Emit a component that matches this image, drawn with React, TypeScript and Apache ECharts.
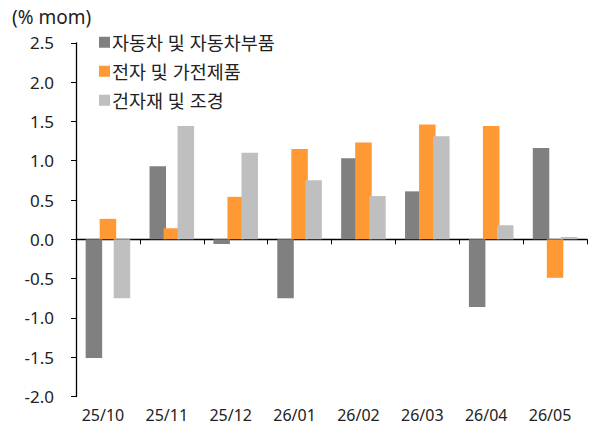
import React, { useEffect, useRef } from "react";
import * as echarts from "echarts";

const categories = ["25/10", "25/11", "25/12", "26/01", "26/02", "26/03", "26/04", "26/05"];
const autoParts = [-1.51, 0.93, -0.06, -0.75, 1.03, 0.61, -0.86, 1.16];
const electronics = [0.26, 0.14, 0.54, 1.15, 1.23, 1.46, 1.44, -0.49];
const construction = [-0.75, 1.44, 1.10, 0.75, 0.55, 1.31, 0.18, 0.03];
const seriesNames = ["자동차 및 자동차부품", "전자 및 가전제품", "건자재 및 조경"];
const colors = ["#808080", "#FF9933", "#BFBFBF"];

const FONT = "'Noto Sans', 'Noto Sans CJK KR', sans-serif";

export default function App() {
  const ref = useRef<HTMLDivElement>(null);
  useEffect(() => {
    if (!ref.current) return;
    const chart = echarts.init(ref.current, null, { renderer: "svg" });
    const mk = (name: string, data: number[], color: string) => ({
      name,
      type: "bar",
      data,
      xAxisIndex: 0,
      barWidth: 16.5,
      barGap: "-15%",
      itemStyle: { color },
    });
    chart.setOption({
      animation: false,
      textStyle: { fontFamily: FONT },
      title: {
        text: "(% mom)",
        left: 7,
        top: 2,
        textStyle: { fontSize: 19, fontWeight: "normal", color: "#222", fontFamily: FONT },
      },
      legend: {
        orient: "vertical",
        left: 94,
        top: 28,
        itemWidth: 11,
        itemHeight: 11,
        itemGap: 10.5,
        icon: "rect",
        data: seriesNames,
        textStyle: { fontSize: 18.5, color: "#222", fontFamily: FONT, padding: [0, 0, 0, -3] },
      },
      grid: { left: 76, right: 9, top: 42.8, bottom: 33.5, containLabel: false },
      xAxis: [
        {
          type: "category",
          data: categories,
          position: "bottom",
          axisLine: { show: true, onZero: true, lineStyle: { color: "#000", width: 1.3 } },
          axisTick: { show: true, length: 5, inside: false, alignWithLabel: false, lineStyle: { color: "#000" } },
          axisLabel: { show: false },
        },
        {
          type: "category",
          data: categories,
          position: "bottom",
          axisLine: { show: false, onZero: false },
          axisTick: { show: false },
          axisLabel: { show: true, fontSize: 16, color: "#222", margin: 10, fontFamily: FONT, padding: [0, 10, 0, 0] },
        },
      ],
      yAxis: {
        type: "value",
        min: -2,
        max: 2.5,
        interval: 0.5,
        axisLine: { show: true, lineStyle: { color: "#000", width: 1.3 } },
        axisTick: { show: true, length: 5, lineStyle: { color: "#000" } },
        splitLine: { show: false },
        axisLabel: {
          fontSize: 17,
          color: "#222",
          margin: 22,
          fontFamily: FONT,
          formatter: (v: number) => v.toFixed(1),
        },
      },
      series: [
        mk(seriesNames[0], autoParts, colors[0]),
        mk(seriesNames[1], electronics, colors[1]),
        mk(seriesNames[2], construction, colors[2]),
      ],
    });
    return () => chart.dispose();
  }, []);
  return <div ref={ref} style={{ width: 596, height: 430, position: "absolute", left: 0, top: 0 }} />;
}
